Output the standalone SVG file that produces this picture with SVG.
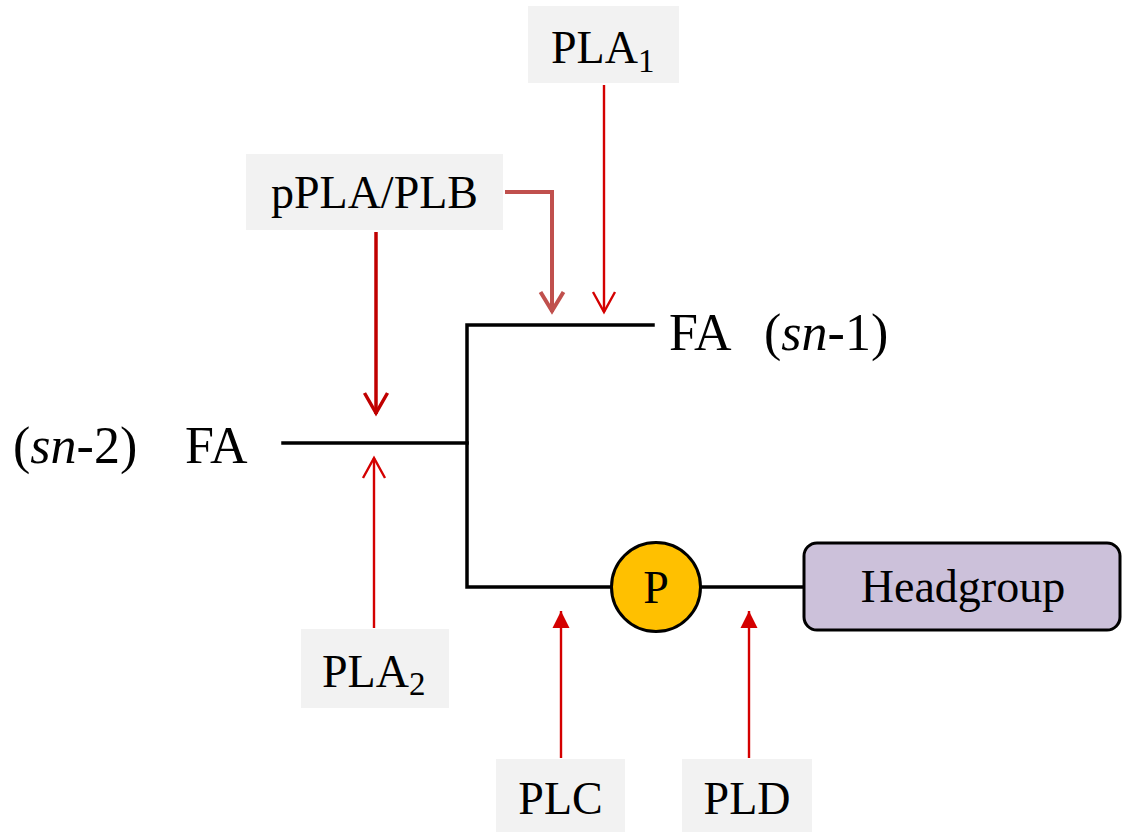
<svg xmlns="http://www.w3.org/2000/svg" width="1123" height="832" viewBox="0 0 1123 832">
<defs>
<style>
.lbl{fill:#f2f2f2;}
.t{font-family:"Liberation Serif","Times New Roman",serif;font-size:46px;fill:#000;}
.big{font-family:"Liberation Serif","Times New Roman",serif;font-size:52px;fill:#000;}
.sub{font-size:33px;}
.bone{stroke:#000;stroke-width:3.5;fill:none;stroke-linecap:square;}
.red{stroke:#d40000;stroke-width:2.4;fill:none;}
.redthick{stroke:#c00000;stroke-width:3.5;fill:none;}
.redlight{stroke:#c0504d;stroke-width:4;fill:none;}
</style>
<marker id="chevR" markerUnits="userSpaceOnUse" orient="auto" markerWidth="30" markerHeight="30" refX="0" refY="0" viewBox="-24 -15 30 30" overflow="visible">
<path d="M-20,-11 L0,0 L-20,11" fill="none" stroke="#d40000" stroke-width="2.4"/>
</marker>
<marker id="chevThick" markerUnits="userSpaceOnUse" orient="auto" markerWidth="30" markerHeight="30" refX="0" refY="0" viewBox="-24 -15 30 30" overflow="visible">
<path d="M-21,-11.5 L-1,0 L-21,11.5" fill="none" stroke="#c00000" stroke-width="3.5"/>
</marker>
<marker id="chevLight" markerUnits="userSpaceOnUse" orient="auto" markerWidth="30" markerHeight="30" refX="0" refY="0" viewBox="-24 -15 30 30" overflow="visible">
<path d="M-20,-11.5 L-1,0 L-20,11.5" fill="none" stroke="#c0504d" stroke-width="4"/>
</marker>
<marker id="tri" markerUnits="userSpaceOnUse" orient="auto" markerWidth="20" markerHeight="20" refX="0" refY="0" viewBox="-18 -10 20 20" overflow="visible">
<path d="M0,0 L-17,-8.5 L-17,8.5 Z" fill="#d40000"/>
</marker>
</defs>
<rect width="1123" height="832" fill="#fff"/>

<g id="connectors">
<line class="bone" x1="283" y1="443" x2="467" y2="443"/>
<polyline class="bone" points="653,325 467,325 467,587 611,587"/>
<line class="bone" x1="701" y1="587" x2="803" y2="587"/>
<line class="red" x1="604" y1="85" x2="604" y2="312" marker-end="url(#chevR)"/>
<polyline class="redlight" points="505,192 552,192 552,312" marker-end="url(#chevLight)"/>
<line class="redthick" x1="376" y1="232" x2="376" y2="414" marker-end="url(#chevThick)"/>
<line class="red" x1="374" y1="628" x2="374" y2="458" marker-end="url(#chevR)"/>
<line class="red" x1="561" y1="758" x2="561" y2="611" marker-end="url(#tri)"/>
<line class="red" x1="749" y1="758" x2="749" y2="611" marker-end="url(#tri)"/>
</g>

<g id="fa-sn2">
<text class="big" x="13" y="463">(<tspan font-style="italic">sn</tspan>-2)</text>
<text class="big" x="185" y="463">FA</text>
</g>
<g id="fa-sn1">
<text class="big" x="669" y="350">FA</text>
<text class="big" x="764" y="350">(<tspan font-style="italic">sn</tspan>-1)</text>
</g>

<g id="pla1">
<rect class="lbl" x="528" y="6" width="151" height="77"/>
<text class="t" x="551" y="63">PLA<tspan class="sub" dy="9">1</tspan></text>
</g>
<g id="pplaplb">
<rect class="lbl" x="246" y="154" width="257" height="76"/>
<text class="t" x="374.5" y="208" text-anchor="middle">pPLA/PLB</text>
</g>
<g id="pla2">
<rect class="lbl" x="301" y="629" width="148" height="79"/>
<text class="t" x="322" y="687">PLA<tspan class="sub" dy="8">2</tspan></text>
</g>
<g id="plc">
<rect class="lbl" x="496" y="759" width="129" height="73"/>
<text class="t" x="560.5" y="814" text-anchor="middle">PLC</text>
</g>
<g id="pld">
<rect class="lbl" x="682" y="759" width="130" height="73"/>
<text class="t" x="747" y="814" text-anchor="middle">PLD</text>
</g>
<g id="phosphate">
<circle cx="656" cy="587" r="44.5" fill="#ffc000" stroke="#000" stroke-width="3"/>
<text class="t" x="656" y="603" text-anchor="middle" font-size="42">P</text>
</g>
<g id="headgroup">
<rect x="804" y="543" width="316" height="87" rx="13" ry="13" fill="#ccc1da" stroke="#000" stroke-width="3"/>
<text class="t" x="963" y="602" text-anchor="middle">Headgroup</text>
</g>
</svg>
